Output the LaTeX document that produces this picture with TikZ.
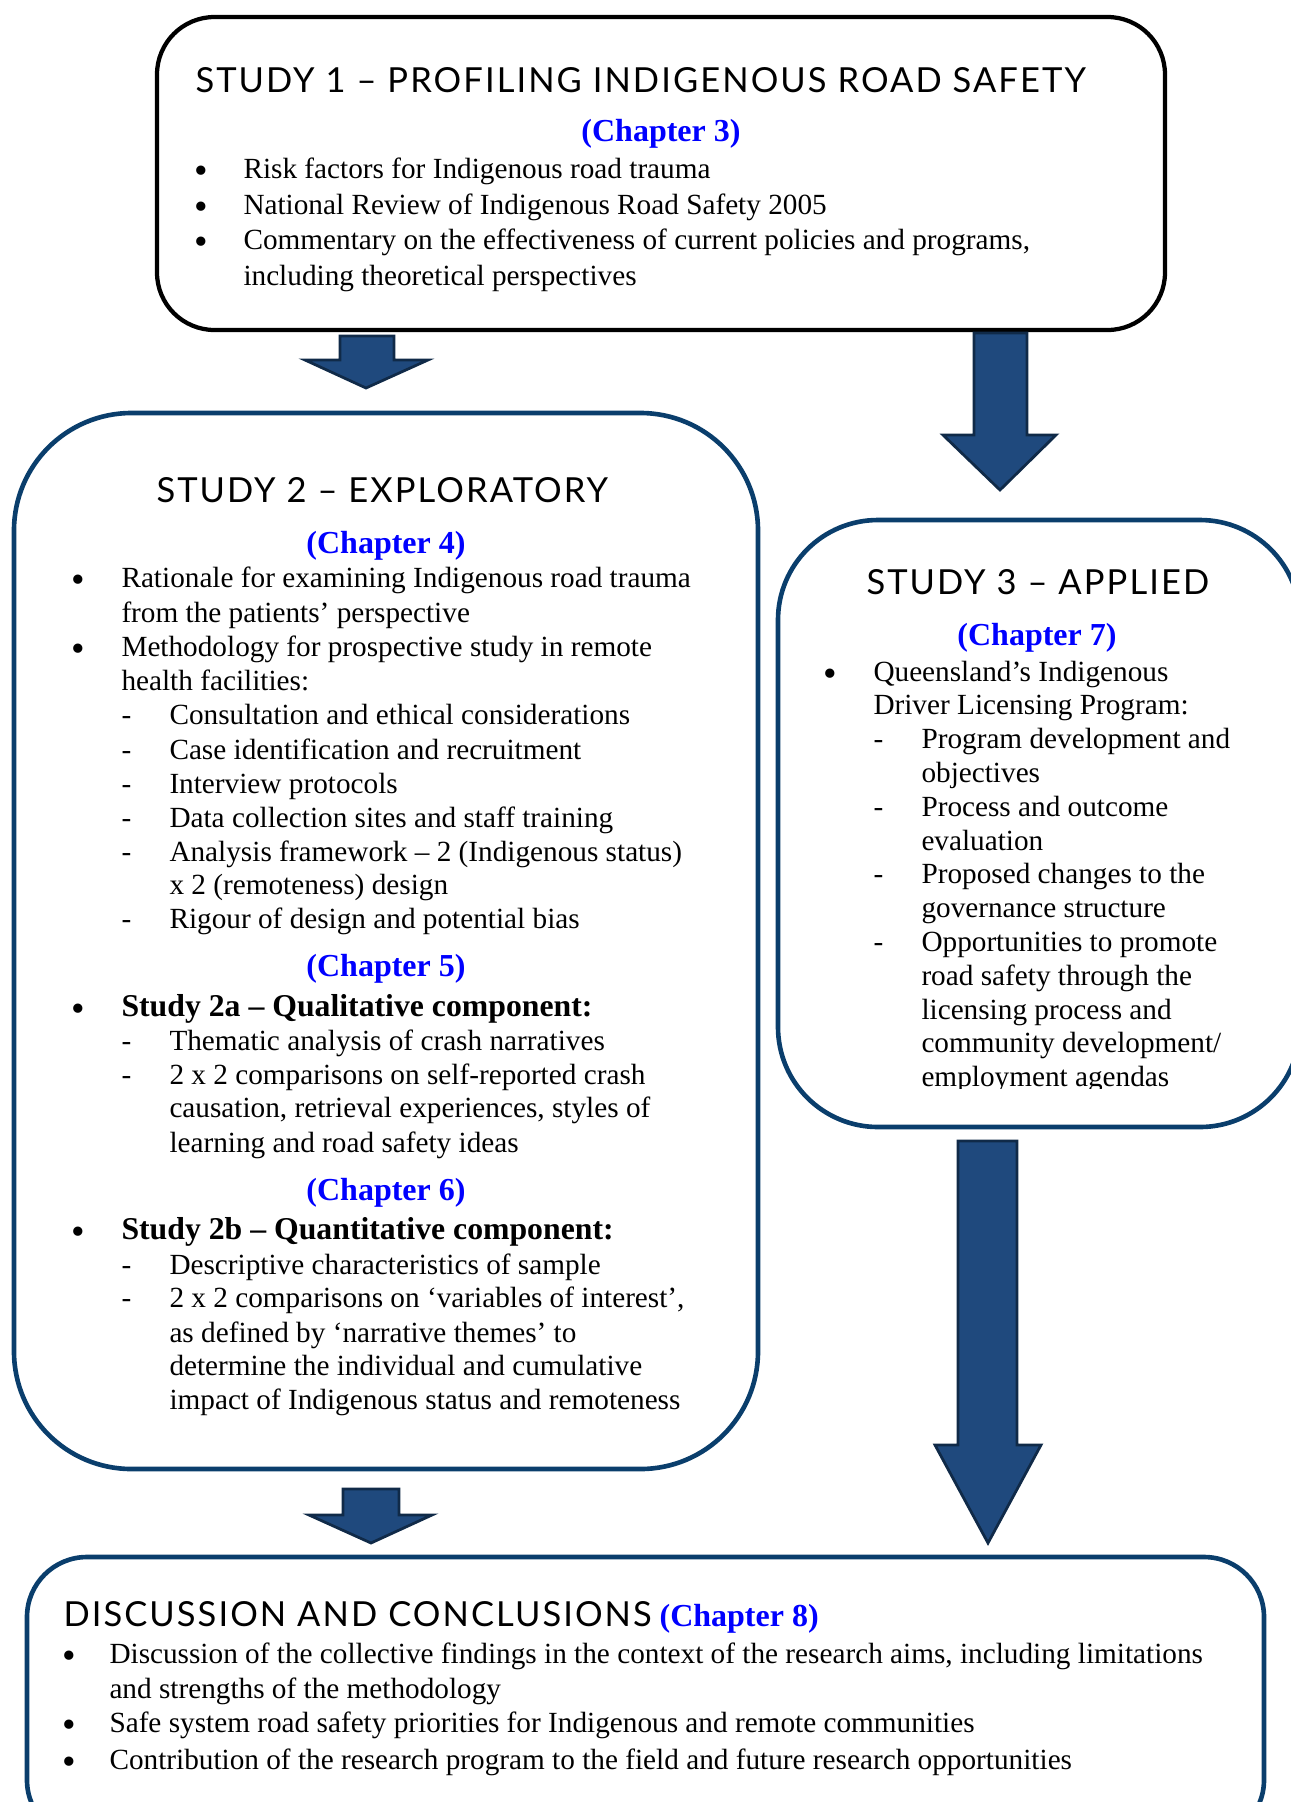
\documentclass[tikz,border=0pt]{standalone}
\usepackage{fontspec}
\setmainfont{Liberation Serif}
\newfontfamily\headfont[LetterSpace=6]{Lato}
\usetikzlibrary{fit}

\definecolor{navyline}{RGB}{10,62,108}
\definecolor{arrowfill}{RGB}{31,73,125}
\definecolor{arrowedge}{RGB}{16,42,72}
\definecolor{chapblue}{RGB}{0,0,255}

\tikzset{
  roundbox/.style={draw=navyline, line width=1.85pt, inner sep=0pt},
  headtxt/.style={anchor=base west, inner sep=0pt, font=\headfont\fontsize{13.8}{16}\selectfont},
  chaptxt/.style={anchor=base, inner sep=0pt, text=chapblue, font=\fontsize{12.8}{15}\selectfont\bfseries},
  bodytxt/.style={anchor=base west, inner sep=0pt, font=\fontsize{11.7}{14}\selectfont},
  boldtxt/.style={bodytxt, font=\fontsize{12.7}{15}\selectfont\bfseries},
  bulletmark/.style={anchor=base, inner sep=0pt, yshift=-2.2pt, font=\fontsize{15.5}{16}\selectfont},
  blockarrow/.style={fill=arrowfill, draw=arrowedge, line width=1.1pt}
}

\begin{document}
\begin{tikzpicture}[x=0.4pt, y=-0.4pt]
\useasboundingbox (0,0) rectangle (1291,1802);
\clip (0,0) rectangle (1291,1802);

% the four study boxes
\node[roundbox, draw=black, line width=1.7pt, rounded corners=23pt, fit={(157,17) (1165,330)}] (s1) {};
\node[roundbox, rounded corners=47pt, fit={(14,413) (758,1469)}] (s2) {};
\node[roundbox, rounded corners=40pt, fit={(778,520) (1300,1127)}] (s3) {};
\node[roundbox, rounded corners=24pt, fit={(27,1557) (1264,1840)}] (s4) {};

% block arrows
\draw[blockarrow] (340,336) -- (394,336) -- (394,360) -- (428,360) -- (366,388) -- (305,360) -- (340,360) -- cycle;
\draw[blockarrow] (974,333) -- (1027,333) -- (1027,435) -- (1056,435) -- (1000,490) -- (943,435) -- (974,435) -- cycle;
\draw[blockarrow] (958,1141) -- (1017,1141) -- (1017,1445) -- (1041,1445) -- (988,1543) -- (935,1445) -- (958,1445) -- cycle;
\draw[blockarrow] (343,1489) -- (399,1489) -- (399,1515) -- (432,1515) -- (371,1543) -- (309,1515) -- (343,1515) -- cycle;

% study 1
\node[headtxt] (h1) at (195,92) {STUDY 1 – PROFILING INDIGENOUS ROAD SAFETY};
\node[chaptxt] (c3) at (661,141) {(Chapter 3)};
\foreach \y [count=\i] in {178,214,249}
  \node[bulletmark] (t1b\i) at (201,\y) {•};
\foreach \y/\x/\txt [count=\i] in {
  178/243/{Risk factors for Indigenous road trauma},
  214/243/{National Review of Indigenous Road Safety 2005},
  249/243/{Commentary on the effectiveness of current policies and programs,},
  285/243/{including theoretical perspectives}}
  \node[bodytxt] (t1l\i) at (\x,\y) {\txt};

% study 2
\node[headtxt] (h2) at (156,502) {STUDY 2 – EXPLORATORY};
\node[chaptxt] (c4) at (386,553) {(Chapter 4)};
\node[chaptxt] (c5) at (386,976) {(Chapter 5)};
\node[chaptxt] (c6) at (386,1200) {(Chapter 6)};
\foreach \y [count=\i] in {587,656,1016,1239}
  \node[bulletmark] (t2b\i) at (78,\y) {•};
\foreach \y [count=\i] in {724,759,793,827,861,928,1050,1084,1274,1307}
  \node[bodytxt] (t2d\i) at (121,\y) {-};
\node[boldtxt] (s2a) at (121,1016) {Study 2a – Qualitative component:};
\node[boldtxt] (s2b) at (121,1239) {Study 2b – Quantitative component:};
\foreach \y/\x/\txt [count=\i] in {
  587/121/{Rationale for examining Indigenous road trauma},
  622/121/{from the patients’ perspective},
  656/121/{Methodology for prospective study in remote},
  690/121/{health facilities:},
  724/169/{Consultation and ethical considerations},
  759/169/{Case identification and recruitment},
  793/169/{Interview protocols},
  827/169/{Data collection sites and staff training},
  861/169/{Analysis framework – 2 (Indigenous status)},
  894/169/{x 2 (remoteness) design},
  928/169/{Rigour of design and potential bias},
  1050/169/{Thematic analysis of crash narratives},
  1084/169/{2 x 2 comparisons on self-reported crash},
  1117/169/{causation, retrieval experiences, styles of},
  1152/169/{learning and road safety ideas},
  1274/169/{Descriptive characteristics of sample},
  1307/169/{2 x 2 comparisons on ‘variables of interest’,},
  1342/169/{as defined by ‘narrative themes’ to},
  1375/169/{determine the individual and cumulative},
  1409/169/{impact of Indigenous status and remoteness}}
  \node[bodytxt] (t2l\i) at (\x,\y) {\txt};

% study 3 (text cut off at the bottom, as in the source)
\node[headtxt] (h3) at (866,594) {STUDY 3 – APPLIED};
\node[chaptxt] (c7) at (1037,645) {(Chapter 7)};
\begin{scope}
\clip (778,520) rectangle (1300,1088);
\node[bulletmark] (t3b1) at (830,681) {•};
\foreach \y [count=\i] in {748,816,883,951}
  \node[bodytxt] (t3d\i) at (873,\y) {-};
\foreach \y/\x/\txt [count=\i] in {
  681/873/{Queensland’s Indigenous},
  714/873/{Driver Licensing Program:},
  748/921/{Program development and},
  782/921/{objectives},
  816/921/{Process and outcome},
  850/921/{evaluation},
  883/921/{Proposed changes to the},
  917/921/{governance structure},
  951/921/{Opportunities to promote},
  985/921/{road safety through the},
  1019/921/{licensing process and},
  1052/921/{community development/},
  1086/921/{employment agendas}}
  \node[bodytxt] (t3l\i) at (\x,\y) {\txt};
\end{scope}

% discussion
\node[headtxt] (h4) at (63,1626) {DISCUSSION AND CONCLUSIONS};
\node[chaptxt, anchor=base west, xshift=2.8pt] (c8) at (h4.base east) {(Chapter 8)};
\foreach \y [count=\i] in {1663,1732,1769}
  \node[bulletmark] (t4b\i) at (69,\y) {•};
\foreach \y/\x/\txt [count=\i] in {
  1663/109/{Discussion of the collective findings in the context of the research aims, including limitations},
  1698/109/{and strengths of the methodology},
  1732/109/{Safe system road safety priorities for Indigenous and remote communities},
  1769/109/{Contribution of the research program to the field and future research opportunities}}
  \node[bodytxt] (t4l\i) at (\x,\y) {\txt};
\end{tikzpicture}
\end{document}
